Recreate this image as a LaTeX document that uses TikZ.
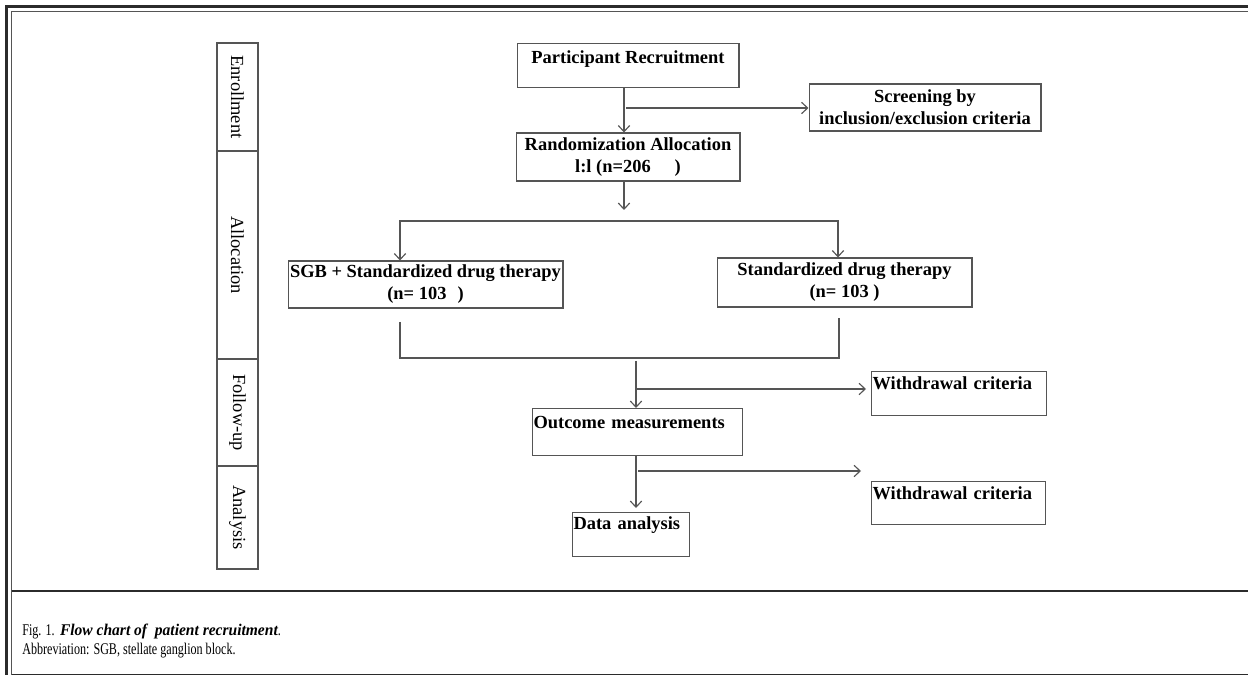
\documentclass[tikz,border=0pt]{standalone}
\usepackage{fontspec}
\setmainfont{Liberation Serif}
\newfontfamily\capfont[FakeStretch=0.74]{Liberation Serif}
\newfontfamily\capitfont[FakeStretch=0.95]{Liberation Serif}
\usetikzlibrary{arrows,arrows.meta,calc}
\definecolor{linegray}{HTML}{555555}
\definecolor{framegray}{HTML}{2B2B2B}
\tikzset{
    boxnode/.style={draw=linegray, line width=0.6pt, rectangle, inner sep=0pt, font=\fontsize{10.5}{12.5}\selectfont\bfseries},
    phasenode/.style={draw=linegray, line width=0.6pt, rectangle, inner sep=0pt, rotate=-90, minimum height=0.82cm, font=\fontsize{10.5}{12.5}\selectfont},
    flowline/.style={draw=linegray, line width=0.65pt},
    flowarrow/.style={flowline, -{Straight Barb[length=3.5pt,width=6.5pt]}},
    captext/.style={anchor=base west, inner sep=0pt, font=\fontsize{9.3}{11}\selectfont},
}
\begin{document}
\begin{tikzpicture}[x=0.02cm, y=-0.02cm]
    \useasboundingbox (0,0) rectangle (1248,675);
    \draw[framegray, line width=1.6pt] (6.5,675) -- (6.5,6.5) -- (1248,6.5);
    \draw[linegray, line width=0.6pt] (11.5,675) -- (11.5,11.5) -- (1248,11.5);
    \draw[framegray, line width=0.9pt] (11.5,591) -- (1248,591);
    \draw[framegray, line width=0.9pt] (11.5,674.5) -- (1248,674.5);

    \node[phasenode, minimum width=2.16cm] (enroll) at (237.5,97) {Enrollment};
    \node[phasenode, minimum width=4.16cm] (alloc) at (237.5,255) {Allocation};
    \node[phasenode, minimum width=2.14cm] (follow) at (237.5,412.5) {Follow-up};
    \node[phasenode, minimum width=2.06cm] (analys) at (237.5,517.5) {Analysis};

    \node[boxnode, anchor=north, minimum width=4.44cm, text height=0.40cm, text depth=0.48cm] (recruit) at (628,43) {Participant Recruitment};
    \node[boxnode, minimum width=4.64cm, minimum height=0.94cm, align=center] (screen) at (925,107.5) {Screening by\\inclusion/exclusion criteria};
    \node[boxnode, minimum width=4.48cm, minimum height=0.96cm, align=center] (random) at (628,157) {Randomization Allocation\\l:l (n=206\hspace{1.3em})};
    \node[boxnode, minimum width=5.5cm, minimum height=0.94cm, align=center] (sgb) at (425.5,284.5) {SGB + Standardized drug therapy\\(n= 103\hspace{0.6em})};
    \node[boxnode, minimum width=5.1cm, minimum height=0.98cm, align=center] (drug) at (844.5,282.5) {Standardized drug therapy\\(n= 103 )};
    \node[boxnode, anchor=north west, inner xsep=0.02cm, text width=4.16cm, align=left, text height=0.40cm, text depth=0.54cm] (outcome) at (532,408) {Outcome measurements};
    \node[boxnode, anchor=north west, inner xsep=0.02cm, text width=3.46cm, align=left, text height=0.36cm, text depth=0.52cm] (withdrawA) at (871,371) {Withdrawal criteria};
    \node[boxnode, anchor=north west, inner xsep=0.02cm, text width=3.44cm, align=left, text height=0.36cm, text depth=0.50cm] (withdrawB) at (871,481) {Withdrawal criteria};
    \node[boxnode, anchor=north west, inner xsep=0.02cm, text width=2.30cm, align=left, text height=0.34cm, text depth=0.54cm] (data) at (572,512) {Data analysis};

    \coordinate (c1) at (624,0);
    \coordinate (b1) at (626,108);
    \coordinate (c2) at (624,210);
    \coordinate (sL) at (400,221);
    \coordinate (sR) at (838,221);
    \coordinate (mL) at (400,322);
    \coordinate (mR) at (839,318);
    \coordinate (d1) at (636,361);
    \coordinate (e1) at (636,389);
    \coordinate (f1) at (638,471);

    \draw[flowarrow] (recruit.south -| c1) -- (random.north -| c1);
    \draw[flowarrow] (b1) -- (screen.west |- b1);
    \draw[flowarrow] (random.south -| c1) -- (c2);
    \draw[flowline, {Straight Barb[length=3.5pt,width=6.5pt]}-{Straight Barb[length=3.5pt,width=6.5pt]}] (sgb.north -| sL) |- (sR) -- (drug.north -| sR);
    \draw[flowline] (mL) -- ++(0,36) -| (mR);
    \draw[flowarrow] (d1) -- (outcome.north -| d1);
    \draw[flowarrow, shorten >=0.1cm] (e1) -- (withdrawA.west |- e1);
    \draw[flowarrow, shorten >=0.08cm] (outcome.south -| d1) -- (data.north -| d1);
    \draw[flowarrow, shorten >=0.2cm] (f1) -- (withdrawB.west |- f1);

    \node[captext] (caption) at (22,635) {{\capfont Fig. 1.} {\capitfont\bfseries\itshape Flow chart of\ \ patient recruitment}{\capfont .}};
    \node[captext] (abbrev) at (22,654) {\capfont Abbreviation: SGB, stellate ganglion block.};
\end{tikzpicture}
\end{document}
